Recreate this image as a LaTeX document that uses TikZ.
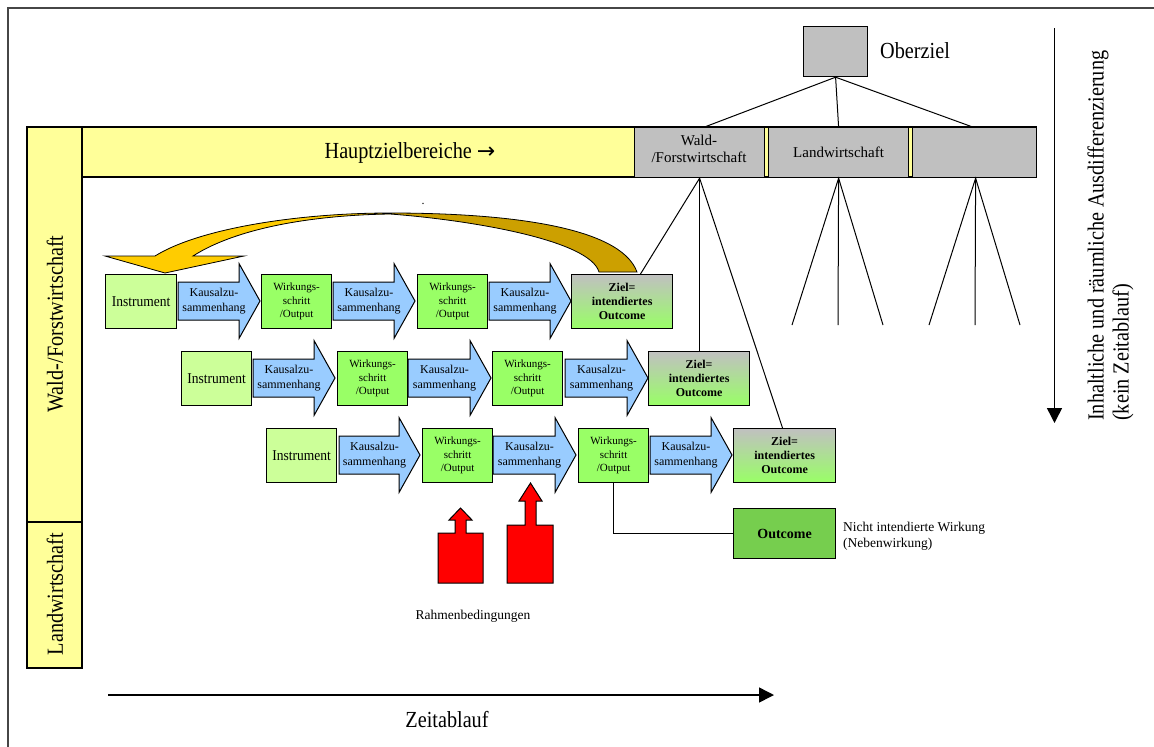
\documentclass[tikz,border=0pt]{standalone}
\usepackage{fontspec}
\setmainfont{Liberation Serif}
\newfontfamily\bigfont[FakeStretch=0.88]{Liberation Serif}
\newfontfamily\instfont[FakeStretch=0.9]{Liberation Serif}
\newfontfamily\arrowfont{DejaVu Sans}
\usetikzlibrary{arrows.meta,calc}

\definecolor{barY}{RGB}{255,255,153}
\definecolor{barG}{RGB}{192,192,192}
\definecolor{instG}{RGB}{204,255,153}
\definecolor{wirkG}{RGB}{153,255,102}
\definecolor{kausB}{RGB}{153,204,255}
\definecolor{outG}{RGB}{118,206,78}
\definecolor{curvY}{RGB}{255,204,0}
\definecolor{curvD}{RGB}{204,160,0}
\definecolor{frameC}{RGB}{70,70,70}
\definecolor{redA}{RGB}{255,0,0}

\tikzset{
  box/.style={draw=black, line width=1.2pt, inner sep=0pt, anchor=north west},
  instbox/.style={box, fill=instG, font=\instfont\fontsize{15}{16}\selectfont, minimum width=71pt, minimum height=54pt},
  wirkbox/.style={box, fill=wirkG, align=center, font=\fontsize{11}{13.3}\selectfont, minimum width=70pt, minimum height=54pt},
  zielbox/.style={box, top color=barG, bottom color=wirkG, align=center, font=\bfseries\fontsize{12}{14}\selectfont, minimum width=101pt, minimum height=54pt},
  outbox/.style={box, fill=outG, font=\bfseries\fontsize{14}{16}\selectfont, minimum width=102pt, minimum height=50pt},
  graybox/.style={box, fill=barG, align=center, font=\fontsize{15}{17}\selectfont, minimum height=50pt},
  kausarrow/.style={draw=black, line width=1pt, fill=kausB},
  kaustext/.style={align=center, inner sep=0pt, font=\fontsize{12}{14.5}\selectfont},
  bigtext/.style={inner sep=0pt, font=\bigfont\fontsize{23}{25}\selectfont},
  treeline/.style={draw=black, line width=1pt},
  redarrow/.style={draw=black, line width=1pt, fill=redA},
  barline/.style={draw=black, line width=1.2pt},
  timearrow/.style={line width=1.5pt, -{Triangle[length=15pt,width=15pt]}}
}

% name, start x, tip x, centre y
\newcommand\kausal[4]{%
  \draw[kausarrow] (#2,#4-19) -- (#3-21,#4-19) -- (#3-21,#4-37.5) -- (#3,#4)
    -- (#3-21,#4+37.5) -- (#3-21,#4+19) -- (#2,#4+19) -- cycle;
  \node[kaustext] (#1) at ({(#2+#3)/2-5},#4) {Kausalzu-\\sammenhang};
}

\newcommand\curvpath{(637,272) .. controls (620,225) and (500,213) .. (390,213)
  .. controls (300,213) and (200,228) .. (155,256) -- (105,256) -- (165,273)
  -- (244,256) -- (193,256) .. controls (240,226) and (320,215) .. (390,214)
  .. controls (470,220) and (590,240) .. (599,272) -- cycle}

\begin{document}
\begin{tikzpicture}[x=1pt,y=-1pt]
\useasboundingbox (0,0) rectangle (1154,747);

% outer frame
\draw[frameC, line width=1.5pt] (8,747) -- (8,8) -- (1154,8);

% yellow bars
\draw[barline, fill=barY] (82,127) rectangle (1036,177);
\draw[barline, fill=barY] (27,127) rectangle (82,522);
\draw[barline, fill=barY] (27,522) rectangle (82,668);
\node[bigtext] (hzb) at (410,153) {Hauptzielbereiche {\arrowfont\fontsize{22}{22}\selectfont →}};
\node[bigtext, rotate=90] (wfl) at (55,324) {Wald-/Forstwirtschaft};
\node[bigtext, rotate=90] (lwl) at (55,594) {Landwirtschaft};

% gray boxes
\node[graybox, minimum width=130pt] (wald) at (634,127) {};
\node[font=\fontsize{15}{17}\selectfont, align=center, inner sep=0pt] (waldt) at (699,149) {Wald-\\/Forstwirtschaft};
\node[graybox, minimum width=140pt] (landw) at (768,127) {Landwirtschaft};
\node[graybox, minimum width=124pt] (third) at (912,127) {};

% Oberziel
\node[box, fill=barG, minimum width=64pt, minimum height=50pt] (ober) at (803,26) {};
\node[bigtext, anchor=west] (obert) at (880,51) {Oberziel};

\draw[treeline] (ober.south) -- ($(wald.north)+(5,0)$);
\draw[treeline] (ober.south) -- (landw.north);
\draw[treeline] (ober.south) -- ($(third.north)+(-2,0)$);

% right vertical arrow and text
\coordinate (va1) at (1054.5,28);
\coordinate (va2) at (1054.5,423);
\draw[timearrow] (va1) -- (va2);
\node[bigtext, rotate=90, align=left, anchor=west] (vtext) at (1110.5,421)
  {Inhaltliche und räumliche Ausdifferenzierung\\(kein Zeitablauf)};

% curved feedback arrow
\fill[curvD] \curvpath;
\begin{scope}
  \clip (0,0) rectangle (390,747);
  \fill[curvY] \curvpath;
\end{scope}
\draw[black, line width=0.8pt] \curvpath;
\node[font=\fontsize{12}{12}\selectfont, anchor=base, inner sep=0pt] (dot) at (423,204) {.};

% row 1
\node[instbox] (i1) at (105,274) {Instrument};
\kausal{k11}{178}{260}{301}
\node[wirkbox] (w11) at (261,274) {Wirkungs-\\schritt\\/Output};
\kausal{k12}{333}{415}{301}
\node[wirkbox] (w12) at (417,274) {Wirkungs-\\schritt\\/Output};
\kausal{k13}{489}{571}{301}
\node[zielbox] (z1) at (571,274) {Ziel=\\intendiertes\\Outcome};

% row 2
\node[instbox, minimum width=70pt] (i2) at (181,351) {Instrument};
\kausal{k21}{253}{335}{378}
\node[wirkbox] (w21) at (337,351) {Wirkungs-\\schritt\\/Output};
\kausal{k22}{408}{491}{378}
\node[wirkbox] (w22) at (492,351) {Wirkungs-\\schritt\\/Output};
\kausal{k23}{565}{648}{378}
\node[zielbox] (z2) at (648,351) {Ziel=\\intendiertes\\Outcome};

% row 3
\node[instbox, minimum width=70pt] (i3) at (266,428) {Instrument};
\kausal{k31}{339}{420}{455}
\node[wirkbox] (w31) at (422,428) {Wirkungs-\\schritt\\/Output};
\kausal{k32}{493}{576}{455}
\node[wirkbox] (w32) at (578,428) {Wirkungs-\\schritt\\/Output};
\kausal{k33}{650}{732}{455}
\node[zielbox, minimum width=102pt] (z3) at (733,428) {Ziel=\\intendiertes\\Outcome};

% tree below Wald box
\draw[treeline] (wald.south) -- ($(z1.north west)!0.68!(z1.north east)$);
\draw[treeline] (wald.south) -- (z2.north -| wald.south);
\draw[treeline] (wald.south) -- ($(z3.north west)!0.48!(z3.north east)$);

% trees below the other boxes
\coordinate (la) at (792,325);
\coordinate (lb) at (838,325);
\coordinate (lc) at (883,325);
\coordinate (ta) at (929,325);
\coordinate (tb) at (975,325);
\coordinate (tc) at (1020,325);
\draw[treeline] (la) -- (landw.south) -- (lc);
\draw[treeline] (landw.south) -- (lb);
\draw[treeline] (ta) -- ($(third.south)+(1,0)$) -- (tc);
\draw[treeline] ($(third.south)+(1,0)$) -- (tb);

% side effect
\node[outbox] (outc) at (733,508) {Outcome};
\draw[treeline] (w32.south) |- (outc.west);
\node[anchor=west, align=left, inner sep=0pt, font=\fontsize{13.5}{16}\selectfont] (nebent) at (843,536)
  {Nicht intendierte Wirkung\\(Nebenwirkung)};

% framework conditions (red arrows)
\draw[redarrow] (438,583) -- (438,533) -- (455,533) -- (455,520) -- (449,520) -- (460.5,508)
  -- (472,520) -- (466,520) -- (466,533) -- (483,533) -- (483,583) -- cycle;
\draw[redarrow] (507,583) -- (507,525) -- (525,525) -- (525,501) -- (519,501) -- (530.5,483)
  -- (542,501) -- (536,501) -- (536,525) -- (553,525) -- (553,583) -- cycle;
\node[font=\fontsize{13.5}{16}\selectfont, inner sep=0pt] (rahmen) at (473,616) {Rahmenbedingungen};

% time axis
\coordinate (zs) at (108,695);
\coordinate (ze) at (774,695);
\draw[timearrow] (zs) -- (ze);
\node[bigtext] (zeit) at (447,720) {Zeitablauf};

\end{tikzpicture}
\end{document}
